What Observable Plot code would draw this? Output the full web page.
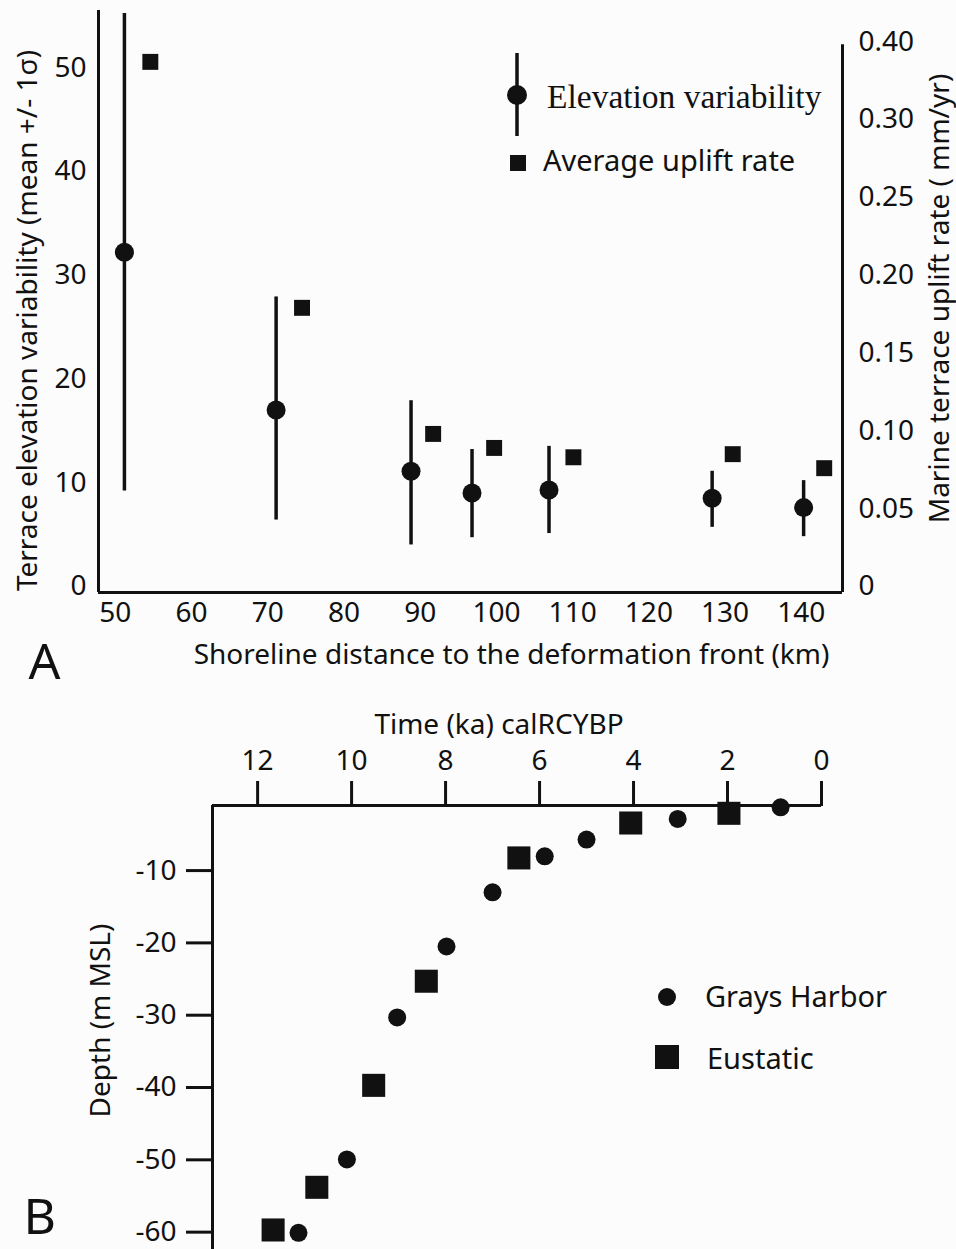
<!DOCTYPE html>
<html><head><meta charset="utf-8">
<script src="https://cdn.jsdelivr.net/npm/d3@7"></script>
<script src="https://cdn.jsdelivr.net/npm/@observablehq/plot@0.6"></script>
<style>
body{margin:0;background:#fcfcfc;}
#wrap{position:relative;width:956px;height:1249px;overflow:hidden;}
#wrap > svg{position:absolute;left:0;}
</style></head><body><div id="wrap"></div>
<script>
// ---------- Panel A data ----------
const distance   = [51.2, 71.1, 88.8, 96.8, 106.9, 128.3, 140.3];   // km
const elevMean   = [32.2, 17.0, 11.1, 9.0, 9.3, 8.5, 7.6];          // m
const elevLow    = [9.2, 6.4, 4.0, 4.7, 5.1, 5.7, 4.8];             // mean - 1σ
const elevHigh   = [55.2, 27.9, 17.9, 13.2, 13.5, 11.1, 10.2];      // mean + 1σ
const upliftDistance = [54.6, 74.5, 91.7, 99.7, 110.1, 131.0, 143.0];
const upliftRate = [0.337, 0.179, 0.098, 0.089, 0.083, 0.085, 0.076]; // mm/yr
const xTicksA = [50, 60, 70, 80, 90, 100, 110, 120, 130, 140];
const yTicksA = [0, 10, 20, 30, 40, 50];
const rateTickValues = [0, 0.05, 0.10, 0.15, 0.20, 0.25, 0.30, 0.35];
const rateTickLabels = ["0", "0.05", "0.10", "0.15", "0.20", "0.25", "0.30", "0.40"];

// ---------- Panel B data ----------
const graysTime  = [0.87, 3.06, 5.0, 5.89, 7.0, 7.98, 9.03, 10.1, 11.13]; // ka
const graysDepth = [-1.25, -2.86, -5.71, -8.02, -13.0, -20.5, -30.3, -49.95, -60.1]; // m MSL
const eustTime   = [1.97, 4.06, 6.44, 8.41, 9.53, 10.74, 11.67];
const eustDepth  = [-2.08, -3.42, -8.25, -25.3, -39.7, -53.8, -59.7];
const timeTicks  = [12, 10, 8, 6, 4, 2, 0];
const depthTicks = [-10, -20, -30, -40, -50, -60];

const INK = "#111";
const FONT = "'Noto Sans', sans-serif";
const RATE_SCALE = 150; // metres of the left axis per mm/yr of the right axis

const wrap = document.getElementById("wrap");

// ---------- Panel A ----------
const xDomainA = [47.8, 145.4];
const yDomainA = [-0.58, 55.5];
const rightAxisTop = 52.2;
const elevData = distance.map((d, i) => ({d, mean: elevMean[i], lo: elevLow[i], hi: elevHigh[i]}));
const upliftData = upliftDistance.map((d, i) => ({d, r: upliftRate[i]}));
const rateLabel = new Map(rateTickValues.map((v, i) => [v * RATE_SCALE, rateTickLabels[i]]));

const plotA = Plot.plot({
  width: 956, height: 690,
  marginLeft: 98, marginRight: 114, marginTop: 10, marginBottom: 98,
  style: {background: "transparent", fontFamily: FONT, fontSize: "28px", color: INK, overflow: "visible"},
  x: {domain: xDomainA},
  y: {domain: yDomainA},
  marks: [
    Plot.ruleY([yDomainA[0]], {stroke: INK, strokeWidth: 3}),
    Plot.ruleX([xDomainA[0]], {stroke: INK, strokeWidth: 3}),
    Plot.ruleX([xDomainA[1]], {y1: yDomainA[0], y2: rightAxisTop, stroke: INK, strokeWidth: 3}),
    Plot.axisX({ticks: xTicksA, tickSize: 0, tickPadding: 10, label: null}),
    Plot.axisY({anchor: "left", ticks: yTicksA, tickSize: 0, tickPadding: 12, label: null}),
    Plot.axisY({anchor: "right", ticks: rateTickValues.map(v => v * RATE_SCALE),
      tickFormat: d => rateLabel.get(d), textAnchor: "start", tickSize: 0, tickPadding: 16, label: null}),
    Plot.text(["Shoreline distance to the deformation front (km)"], {text: d => d, frameAnchor: "bottom", textAnchor: "middle", lineAnchor: "middle", dx: 41, dy: 63, fill: INK}),
    Plot.text(["Terrace elevation variability (mean +/- 1σ)"], {text: d => d, frameAnchor: "left", textAnchor: "middle", lineAnchor: "middle", rotate: -90, dx: -70, dy: 19, fill: INK}),
    Plot.text(["Marine terrace uplift rate ( mm/yr)"], {text: d => d, frameAnchor: "right", textAnchor: "middle", lineAnchor: "middle", rotate: -90, dx: 98, dy: -3, fill: INK}),
    Plot.text(["A"], {text: d => d, frameAnchor: "bottom-left", textAnchor: "start", lineAnchor: "middle", dx: -70, dy: 70, fontSize: 50, fill: INK}),
    Plot.ruleX(elevData, {x: "d", y1: "lo", y2: "hi", stroke: INK, strokeWidth: 3.5}),
    Plot.dot(elevData, {x: "d", y: "mean", r: 9.5, fill: INK, stroke: "none"}),
    Plot.dot(upliftData, {x: "d", y: d => d.r * RATE_SCALE, symbol: "square", r: 9, fill: INK, stroke: "none"})
  ]
});
plotA.style.top = "0px";
wrap.appendChild(plotA);

// ---------- Panel B ----------
const xDomainB = [12.96, 0];
const yDomainB = [-62.4, -1.0];
const grays = graysTime.map((t, i) => ({t, d: graysDepth[i]}));
const eust = eustTime.map((t, i) => ({t, d: eustDepth[i]}));

const plotB = Plot.plot({
  width: 956, height: 559,
  marginLeft: 212, marginRight: 135, marginTop: 115, marginBottom: 0,
  style: {background: "transparent", fontFamily: FONT, fontSize: "28px", color: INK, overflow: "visible"},
  x: {domain: xDomainB},
  y: {domain: yDomainB},
  marks: [
    Plot.ruleY([yDomainB[1]], {stroke: INK, strokeWidth: 3}),
    Plot.ruleX([xDomainB[0]], {stroke: INK, strokeWidth: 3}),
    Plot.axisX({anchor: "top", ticks: timeTicks, tickSize: 25, tickPadding: 11, strokeWidth: 3, label: null}),
    Plot.axisY({anchor: "left", ticks: depthTicks, tickFormat: d => String(d), tickSize: 26, tickPadding: 10, strokeWidth: 3, label: null}),
    Plot.text(["Time (ka) calRCYBP"], {text: d => d, frameAnchor: "top", textAnchor: "middle", lineAnchor: "middle", dx: -18, dy: -80, fill: INK}),
    Plot.text(["Depth (m MSL)"], {text: d => d, frameAnchor: "left", textAnchor: "middle", lineAnchor: "middle", rotate: -90, dx: -111, dy: -7, fill: INK}),
    Plot.text(["B"], {text: d => d, frameAnchor: "top-left", textAnchor: "start", lineAnchor: "middle", dx: -189, dy: 412, fontSize: 50, fill: INK}),
    Plot.dot(grays, {x: "t", y: "d", r: 9, fill: INK, stroke: "none"}),
    Plot.dot(eust, {x: "t", y: "d", symbol: "square", r: 13, fill: INK, stroke: "none"})
  ]
});
plotB.style.top = "690px";
wrap.appendChild(plotB);

// ---------- Legends (overlay) ----------
const leg = d3.create("svg").attr("width", 956).attr("height", 1249)
  .style("position", "absolute").style("left", "0px").style("top", "0px").style("pointer-events", "none");
// Panel A legend
leg.append("line").attr("x1", 517).attr("x2", 517).attr("y1", 53).attr("y2", 136).attr("stroke", INK).attr("stroke-width", 3.5);
leg.append("circle").attr("cx", 517).attr("cy", 95).attr("r", 10).attr("fill", INK);
leg.append("text").attr("x", 547).attr("y", 108).attr("font-family", "'Liberation Serif', serif").attr("font-size", 33.5).attr("fill", INK).text("Elevation variability");
leg.append("rect").attr("x", 510).attr("y", 155).attr("width", 16).attr("height", 16).attr("fill", INK);
leg.append("text").attr("x", 543).attr("y", 171).attr("font-family", FONT).attr("font-size", 29).attr("fill", INK).text("Average uplift rate");
// Panel B legend
leg.append("circle").attr("cx", 667).attr("cy", 997).attr("r", 9).attr("fill", INK);
leg.append("text").attr("x", 705).attr("y", 1007).attr("font-family", FONT).attr("font-size", 29).attr("fill", INK).text("Grays Harbor");
leg.append("rect").attr("x", 655).attr("y", 1045).attr("width", 24).attr("height", 24).attr("fill", INK);
leg.append("text").attr("x", 707).attr("y", 1069).attr("font-family", FONT).attr("font-size", 29).attr("fill", INK).text("Eustatic");
wrap.appendChild(leg.node());
</script></body></html>
